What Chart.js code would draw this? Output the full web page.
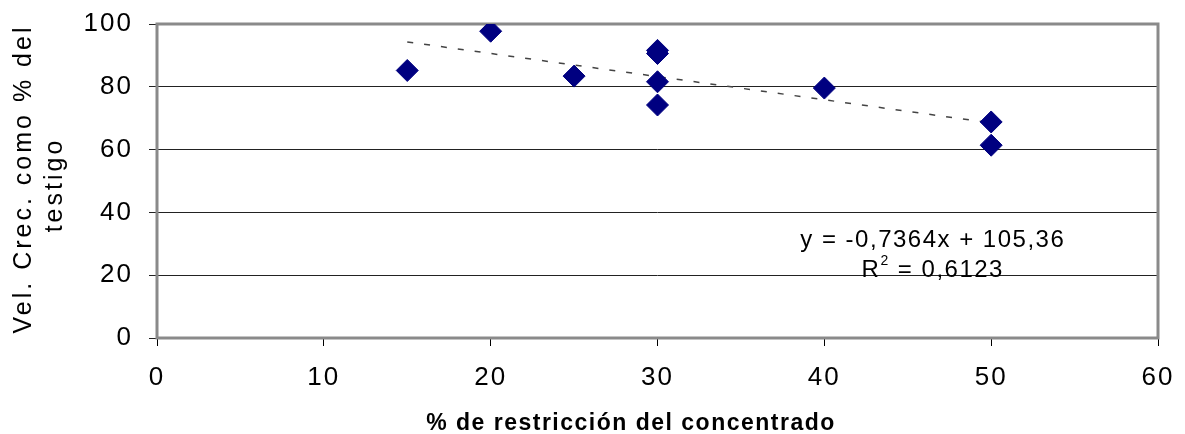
<!DOCTYPE html>
<html>
<head>
<meta charset="utf-8">
<script src="https://cdn.jsdelivr.net/npm/chart.js@4.4.1/dist/chart.umd.min.js"></script>
<style>
  html, body { margin: 0; padding: 0; background: #fff; }
  #wrap { width: 1185px; height: 434px; }
</style>
</head>
<body>
<div id="wrap"><canvas id="myChart" width="1185" height="434"></canvas></div>
<script>
// valores
var restriccion = [15, 20, 25, 30, 30, 30, 30, 40, 50, 50];
var velCrec = [85.2, 97.7, 83.4, 91.6, 90.6, 81.6, 74.2, 79.6, 68.8, 61.4];

// extremos de la linea de tendencia
var trendX = [15, 50];
var trendY = [94.3, 68.5];

var xTicks = [0, 10, 20, 30, 40, 50, 60];
var yTicks = [0, 20, 40, 60, 80, 100];

var tituloX = '% de restricción del concentrado';
var tituloY = ['Vel. Crec. como % del', 'testigo'];
var ecuacion = 'y = -0,7364x + 105,36';
var r2 = '0,6123';

var FONT = '"Liberation Sans", Arial, sans-serif';

var pts = restriccion.map(function (x, i) { return { x: x, y: velCrec[i] }; });
var trend = trendX.map(function (x, i) { return { x: x, y: trendY[i] }; });

// borde, titulos y ecuacion
var extras = {
    id: 'extras',
    beforeUpdate: function (chart) {
        chart.ctx.letterSpacing = '2px';
    },
    beforeDatasetsDraw: function (chart) {
        var a = chart.chartArea;
        var ctx = chart.ctx;
        ctx.save();
        ctx.strokeStyle = '#8a8a8a';
        ctx.lineWidth = 3;
        ctx.strokeRect(a.left, a.top, a.right - a.left, a.bottom - a.top);
        ctx.restore();
    },
    afterDraw: function (chart) {
        var ctx = chart.ctx;
        var xs = chart.scales.x, ys = chart.scales.y;
        ctx.save();
        ctx.fillStyle = '#000';
        ctx.textAlign = 'center';
        ctx.textBaseline = 'middle';

        // ecuacion
        ctx.letterSpacing = '1.5px';
        var cx = xs.getPixelForValue(46.5);
        ctx.font = '24px ' + FONT;
        ctx.fillText(ecuacion, cx, ys.getPixelForValue(31.0));
        var y2 = ys.getPixelForValue(21.6);
        var a = 'R', b = ' = ' + r2;
        var wa = ctx.measureText(a).width, wb = ctx.measureText(b).width;
        ctx.font = '14px ' + FONT;
        var ws = ctx.measureText('2').width;
        var start = cx - (wa + ws + wb) / 2;
        ctx.textAlign = 'left';
        ctx.font = '24px ' + FONT;
        ctx.fillText(a, start, y2);
        ctx.font = '14px ' + FONT;
        ctx.fillText('2', start + wa, y2 - 9);
        ctx.font = '24px ' + FONT;
        ctx.fillText(b, start + wa + ws, y2);

        // titulo eje x
        ctx.textAlign = 'center';
        ctx.textBaseline = 'alphabetic';
        ctx.letterSpacing = '1.5px';
        ctx.font = 'bold 23px ' + FONT;
        ctx.fillText(tituloX, 631, 430);

        // titulo eje y
        ctx.letterSpacing = '3px';
        ctx.font = '25px ' + FONT;
        ctx.textBaseline = 'middle';
        ctx.translate(0, 181);
        ctx.rotate(-Math.PI / 2);
        ctx.fillText(tituloY[0], 2, 24);
        ctx.fillText(tituloY[1], -4, 55);
        ctx.restore();
    }
};

const ctx = document.getElementById('myChart');
const myChart = new Chart(ctx, {
    type: 'scatter',
    data: {
        datasets: [{
            label: 'Vel. Crec.',
            data: pts,
            pointStyle: 'rectRot',
            pointRadius: 11,
            pointHoverRadius: 11,
            backgroundColor: '#000080',
            borderColor: '#000080',
            borderWidth: 1,
            order: 1
        }, {
            label: 'Tendencia',
            data: trend,
            showLine: true,
            pointRadius: 0,
            borderColor: '#444',
            borderWidth: 1.5,
            borderDash: [6, 11],
            fill: false,
            order: 2
        }]
    },
    plugins: [extras],
    options: {
        responsive: false,
        animation: false,
        maintainAspectRatio: false,
        layout: { padding: { left: 6, right: 27, top: 24, bottom: 0 } },
        plugins: {
            legend: { display: false },
            tooltip: { enabled: false }
        },
        scales: {
            x: {
                type: 'linear',
                min: 0,
                max: 60,
                afterBuildTicks: function (scale) {
                    scale.ticks = xTicks.map(function (v) { return { value: v }; });
                },
                afterFit: function (scale) {
                    scale.height = 96;
                    scale.paddingLeft = 0;
                    scale.paddingRight = 0;
                },
                grid: {
                    drawOnChartArea: false,
                    drawTicks: true,
                    tickLength: 8,
                    color: '#000',
                    lineWidth: 1
                },
                border: { display: false },
                ticks: {
                    color: '#000',
                    padding: 16,
                    font: { family: FONT, size: 26 },
                    maxRotation: 0
                },
                title: { display: false }
            },
            y: {
                type: 'linear',
                min: 0,
                max: 100,
                afterBuildTicks: function (scale) {
                    scale.ticks = yTicks.map(function (v) { return { value: v }; });
                },
                afterFit: function (scale) {
                    scale.width = 151;
                    scale.paddingTop = 0;
                    scale.paddingBottom = 0;
                },
                grid: {
                    drawTicks: true,
                    tickLength: 8,
                    color: '#222',
                    lineWidth: 1
                },
                border: { display: false },
                ticks: {
                    color: '#000',
                    padding: 16,
                    font: { family: FONT, size: 26 }
                },
                title: { display: false }
            }
        }
    }
});
</script>
</body>
</html>
